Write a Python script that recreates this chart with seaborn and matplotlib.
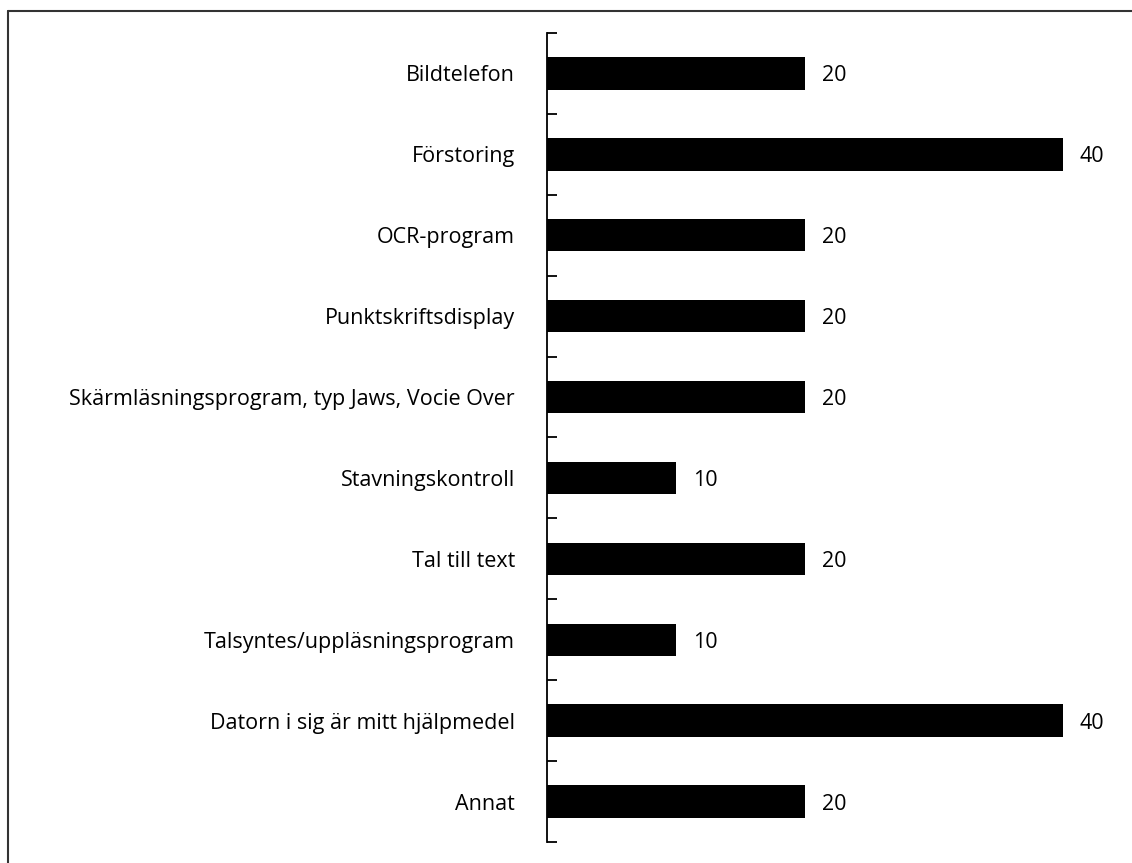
import matplotlib
matplotlib.use("Agg")
import matplotlib.pyplot as plt
import seaborn as sns
import pandas as pd
import numpy as np
from matplotlib.lines import Line2D

categories = ["Bildtelefon", "Förstoring", "OCR-program", "Punktskriftsdisplay",
              "Skärmläsningsprogram, typ Jaws, Vocie Over", "Stavningskontroll",
              "Tal till text", "Talsyntes/uppläsningsprogram",
              "Datorn i sig är mitt hjälpmedel", "Annat"]
values = [20, 40, 20, 20, 20, 10, 20, 10, 40, 20]

df = pd.DataFrame({"cat": categories, "val": values})

sns.set_theme(style="white")
plt.rcParams['font.family'] = ['Open Sans', 'DejaVu Sans']

fig = plt.figure(figsize=(11.32, 8.63), dpi=100)
ax = fig.add_axes([547/1132, 1-842/863, 1 - 547/1132 - 9/1132, (842-33)/863])

sns.barplot(data=df, y="cat", x="val", orient="h", color="black", width=0.4,
            saturation=1, ax=ax, edgecolor="none")

ax.set_xlim(0, 576/12.9)
ax.set_ylim(len(categories) - 0.5, -0.5)
ax.set_xlabel("")
ax.set_ylabel("")
ax.xaxis.set_visible(False)
for s in ["top", "right", "bottom"]:
    ax.spines[s].set_visible(False)
ax.spines["left"].set_color("black")
ax.spines["left"].set_linewidth(1.3)

ax.tick_params(axis="y", which="major", length=0, pad=23, labelsize=15.5, labelcolor="black")
ax.set_yticks(np.arange(-0.5, len(categories) + 0.5, 1), minor=True)
ax.tick_params(axis="y", which="minor", direction="in", length=7, width=1.3, color="black", left=True)

for i, v in enumerate(values):
    ax.text(v + 1.3, i, str(v), va="center_baseline", ha="left", fontsize=15.5, color="black")

fig.add_artist(Line2D([8/1132, 8/1132], [0, 1 - 11/863], transform=fig.transFigure,
                      color="#333333", linewidth=1.5))
fig.add_artist(Line2D([8/1132, 1], [1 - 11/863, 1 - 11/863], transform=fig.transFigure,
                      color="#333333", linewidth=1.5))

fig.savefig("out.png", dpi=100, facecolor="white")
